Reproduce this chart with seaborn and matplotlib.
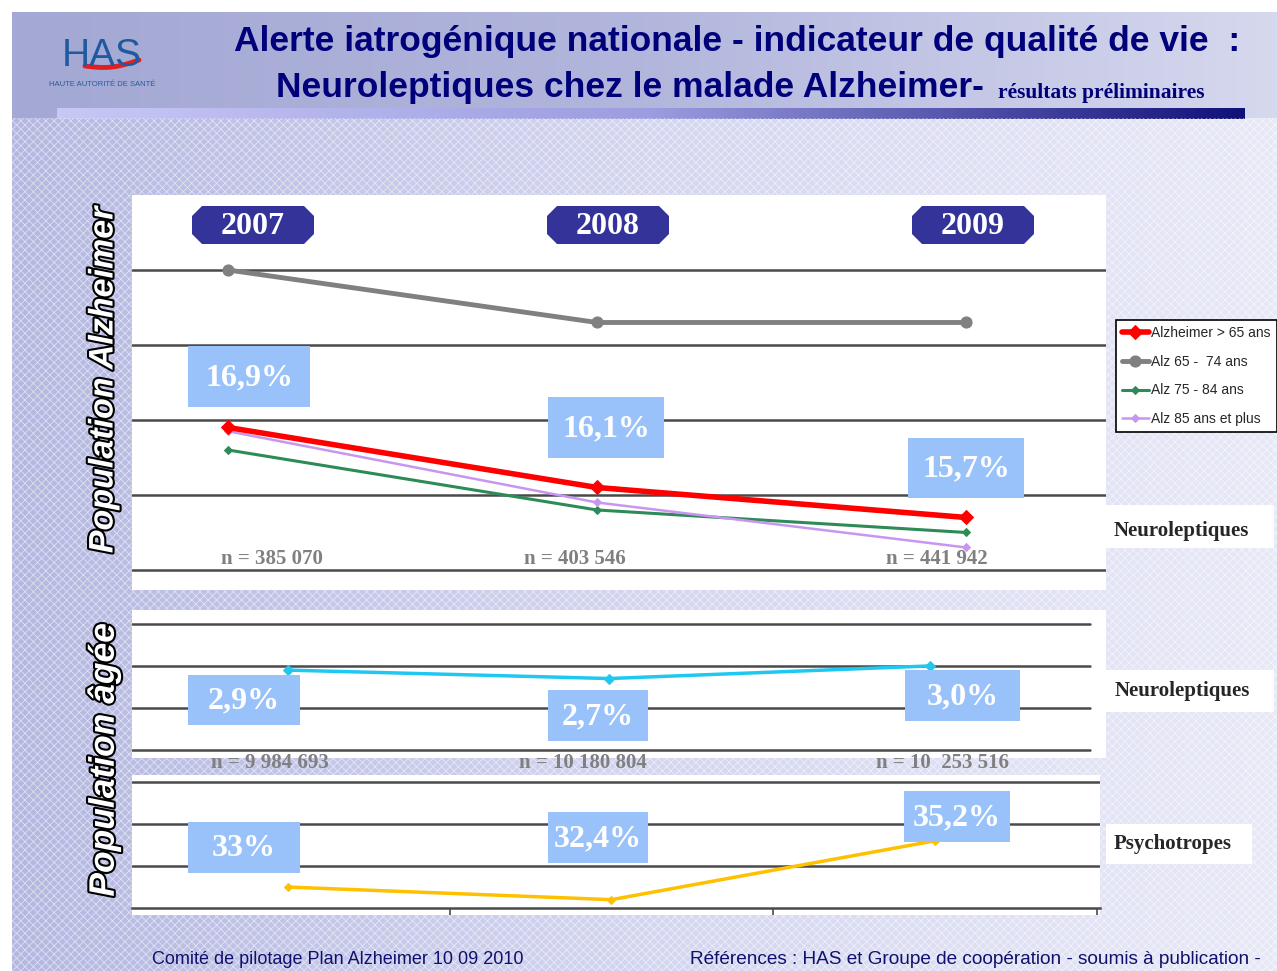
import numpy as np
import pandas as pd
import matplotlib
matplotlib.use("Agg")
import matplotlib.pyplot as plt
import matplotlib.patheffects as pe
from matplotlib.patches import Rectangle, Polygon
from matplotlib.colors import LinearSegmentedColormap
import seaborn as sns

# ---- data ----
years = ["2007", "2008", "2009"]
alz_total = [16.9, 16.1, 15.7]      # Alzheimer > 65 ans
alz_65_74 = [19.0, 18.3, 18.3]
alz_75_84 = [16.6, 15.8, 15.5]
alz_85_plus = [16.85, 15.9, 15.3]
alz_labels = ["16,9%", "16,1%", "15,7%"]
alz_n = ["n = 385 070", "n = 403 546", "n = 441 942"]

age_neuro = [2.9, 2.7, 3.0]
age_neuro_labels = ["2,9%", "2,7%", "3,0%"]
age_n = ["n = 9 984 693", "n = 10 180 804", "n = 10  253 516"]

age_psycho = [33.0, 32.4, 35.2]
age_psycho_labels = ["33%", "32,4%", "35,2%"]

series_names = ["Alzheimer > 65 ans", "Alz 65 -  74 ans", "Alz 75 - 84 ans", "Alz 85 ans et plus"]

sns.set_style("white")
plt.rcParams['font.family'] = ['Liberation Sans', 'DejaVu Sans']

W, H = 1277, 971
fig = plt.figure(figsize=(W / 100, H / 100), dpi=100)

SERIF = ['Liberation Serif', 'DejaVu Serif']
NAVY = '#00007a'
BOX = '#99c2fa'
BADGE = '#333399'


def fig_rect(x0, y0, x1, y1):
    """pixel box (top-left origin) -> figure fraction rect"""
    return [x0 / W, 1 - y1 / H, (x1 - x0) / W, (y1 - y0) / H]


# ---- background (pixel coordinates) ----
bg = fig.add_axes([0, 0, 1, 1], zorder=-10)
bg.set_xlim(0, W)
bg.set_ylim(H, 0)
bg.axis('off')
grad = np.linspace(0, 1, 256)[None, :]
lav = LinearSegmentedColormap.from_list('lav', ['#b4b8e0', '#d4d6f0', '#e8e9f7'])
bg.imshow(grad, cmap=lav, extent=[12, W, H, 118], aspect='auto')
plt.rcParams['hatch.linewidth'] = 0.6
bg.add_patch(Rectangle((12, 118), W - 12, H - 118, fill=False, hatch='xxxx',
                       edgecolor='white', lw=0, alpha=0.55))
head = LinearSegmentedColormap.from_list('head', ['#a3a8d4', '#b2b6dc', '#d6d8ee'])
bg.imshow(grad, cmap=head, extent=[12, W, 118, 12], aspect='auto')
strip = LinearSegmentedColormap.from_list('strip', ['#c8c8f6', '#9c9ce0', '#10107a'])
bg.imshow(grad, cmap=strip, extent=[57, 1245, 119, 108], aspect='auto')

# white panels
for x0, y0, x1, y1 in [(132, 195, 1106, 590), (132, 610, 1106, 758), (132, 775, 1100, 915),
                       (1106, 505, 1274, 548), (1106, 670, 1274, 712), (1106, 824, 1252, 864)]:
    bg.add_patch(Rectangle((x0, y0), x1 - x0, y1 - y0, facecolor='white', edgecolor='none'))

# ---- panel 1 : Population Alzheimer ----
ax1 = fig.add_axes(fig_rect(132, 195, 1106, 590))
ax1.patch.set_alpha(0)
for v in [15, 16, 17, 18, 19]:
    ax1.axhline(v, color='#4a4a4a', lw=1.8, zorder=1)
x = np.arange(len(years))
styles = [
    (alz_total, '#ff0000', 4.0, 'D', 7),
    (alz_65_74, '#808080', 3.5, 'o', 8),
    (alz_75_84, '#2e8b57', 2.2, 'D', 4),
    (alz_85_plus, '#c896f0', 1.8, 'D', 4),
]
order = [1, 2, 3, 0]
for i in order:
    vals, col, lw, mk, ms = styles[i]
    sns.lineplot(x=x, y=vals, ax=ax1, color=col, lw=lw, marker=mk, markersize=ms,
                 markeredgecolor=col, label=series_names[i], zorder=3 + (i == 0))
handles, labels = ax1.get_legend_handles_labels()
hl = dict(zip(labels, handles))
ax1.get_legend().remove()
ax1.set_xlim(-0.26, 2.379)
ax1.set_ylim(14.733, 20)
ax1.axis('off')

# ---- panel 2 : Population âgée, neuroleptiques ----
ax2 = fig.add_axes(fig_rect(132, 610, 1106, 758))
ax2.patch.set_alpha(0)
for v in [1, 2, 3, 4]:
    ax2.axhline(v, xmax=(1090 - 132) / (1106 - 132), color='#4a4a4a', lw=1.8, zorder=1)
sns.lineplot(x=x, y=age_neuro, ax=ax2, color='#1ec8f0', lw=2.5, marker='D', markersize=5,
             markeredgecolor='#1ec8f0', zorder=3)
ax2.set_xlim(-0.486, 2.548)
ax2.set_ylim(0.81, 4.33)
ax2.axis('off')

# ---- panel 3 : Population âgée, psychotropes ----
ax3 = fig.add_axes(fig_rect(132, 775, 1100, 915))
ax3.patch.set_alpha(0)
for v in [34, 36, 38]:
    ax3.axhline(v, color='#4a4a4a', lw=1.8, zorder=1)
sns.lineplot(x=x, y=age_psycho, ax=ax3, color='#ffc000', lw=2.5, marker='D', markersize=4,
             markeredgecolor='#ffc000', zorder=3)
ax3.set_xlim(-0.482, 2.51)
ax3.set_ylim(31.67, 38.33)
ax3.set_yticks([])
ax3.set_xticks([0.5, 1.5, 2.5])
ax3.set_xticklabels([])
ax3.tick_params(axis='x', direction='out', length=5, width=1.2, color='#4a4a4a', bottom=True)
for s in ['top', 'right', 'left']:
    ax3.spines[s].set_visible(False)
ax3.spines['bottom'].set_position(('data', 32))
ax3.spines['bottom'].set_color('#4a4a4a')
ax3.spines['bottom'].set_linewidth(1.8)

# ---- overlay (pixel coordinates) ----
ov = fig.add_axes([0, 0, 1, 1], zorder=5)
ov.set_xlim(0, W)
ov.set_ylim(H, 0)
ov.axis('off')
ov.patch.set_alpha(0)

# year badges
for cx, yr in zip([253, 608, 973], years):
    x0, x1, y0, y1, c = cx - 61, cx + 61, 206, 244, 10
    ov.add_patch(Polygon([(x0 + c, y0), (x1 - c, y0), (x1, y0 + c), (x1, y1 - c), (x1 - c, y1),
                          (x0 + c, y1), (x0, y1 - c), (x0, y0 + c)], closed=True,
                         facecolor=BADGE, edgecolor='none'))
    ov.text(cx, 226, yr, color='white', fontsize=23, fontweight='bold', family=SERIF,
            ha='center', va='center')


def value_box(x0, y0, x1, y1, s, size=23):
    ov.add_patch(Rectangle((x0, y0), x1 - x0, y1 - y0, facecolor=BOX, edgecolor='none'))
    ov.text((x0 + x1) / 2, (y0 + y1) / 2 + 1, s, color='white', fontsize=size,
            fontweight='bold', family=SERIF, ha='center', va='center')


boxes1 = [(188, 346, 310, 407), (548, 397, 664, 458), (908, 438, 1024, 498)]
for b, s in zip(boxes1, alz_labels):
    value_box(*b, s)
boxes2 = [(188, 675, 300, 725), (548, 690, 648, 741), (905, 670, 1020, 721)]
for b, s in zip(boxes2, age_neuro_labels):
    value_box(*b, s)
boxes3 = [(188, 822, 300, 873), (548, 812, 648, 863), (904, 791, 1010, 842)]
for b, s in zip(boxes3, age_psycho_labels):
    value_box(*b, s)

for cx, s in zip([272, 575, 937], alz_n):
    ov.text(cx, 559, s, color='#808080', fontsize=15, fontweight='bold', family=SERIF,
            ha='center', va='center')
for cx, s in zip([270, 583, 943], age_n):
    ov.text(cx, 763, s, color='#808080', fontsize=15, fontweight='bold', family=SERIF,
            ha='center', va='center')

# right-hand labels
ov.text(1114, 531, "Neuroleptiques", fontsize=15, fontweight='bold', family=SERIF, va='center')
ov.text(1115, 691, "Neuroleptiques", fontsize=15, fontweight='bold', family=SERIF, va='center')
ov.text(1114, 844, "Psychotropes", fontsize=15, fontweight='bold', family=SERIF, va='center')

# legend
leg = ov.legend([hl[n] for n in series_names], series_names, loc='upper left',
                bbox_to_anchor=(1116, 320), bbox_transform=ov.transData,
                frameon=True, fancybox=False, edgecolor='black', framealpha=1,
                handlelength=1.9, handletextpad=0.2, labelspacing=1.05,
                borderpad=0.45, borderaxespad=0, prop={'size': 10})
leg.get_frame().set_linewidth(1.2)

# vertical labels
outline = [pe.withStroke(linewidth=3, foreground='black')]
ov.text(104, 380, "Population Alzheimer", rotation=90, fontsize=24.5, fontweight='bold',
        fontstyle='italic', color='white', ha='center', va='center', path_effects=outline)
ov.text(104, 760, "Population âgée", rotation=90, fontsize=25.5, fontweight='bold',
        fontstyle='italic', color='white', ha='center', va='center', path_effects=outline)

# title
ov.text(234, 41, "Alerte iatrogénique nationale - indicateur de qualité de vie  :",
        color=NAVY, fontsize=25.5, fontweight='bold', va='center', ha='left')
ov.text(276, 88, "Neuroleptiques chez le malade Alzheimer-", color=NAVY, fontsize=25.5,
        fontweight='bold', va='center', ha='left')
ov.text(998, 93, "résultats préliminaires", color=NAVY, fontsize=15.5, fontweight='bold',
        family=SERIF, va='center', ha='left')

# HAS logo
ov.text(102, 56, "HAS", color='#1f5aa0', fontsize=28, ha='center', va='center')
t = np.linspace(0, 1, 30)
ov.plot(85 + 54 * t, 66 - 6 * t + 4 * np.sin(np.pi * t), color='#e02020', lw=3.5)
ov.text(102, 85, "HAUTE AUTORITÉ DE SANTÉ", color='#2a5aa0', fontsize=5.5, ha='center', va='center')

# footer
ov.text(152, 959, "Comité de pilotage Plan Alzheimer 10 09 2010", color='#10106e',
        fontsize=13, va='center')
ov.text(690, 959, "Références : HAS et Groupe de coopération - soumis à publication -",
        color='#10106e', fontsize=13.7, va='center')

fig.savefig("out.png", dpi=100)
